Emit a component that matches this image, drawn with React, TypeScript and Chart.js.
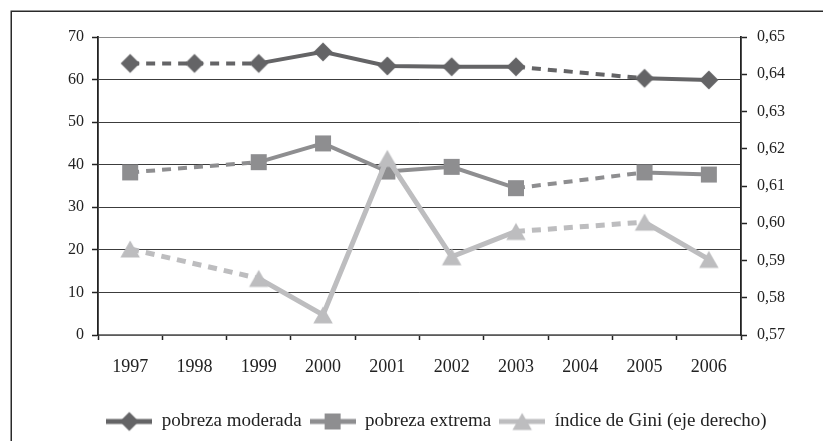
import React, { useEffect, useRef } from 'react';
import { Chart, registerables } from 'chart.js';

Chart.register(...registerables);

const years = ['1997', '1998', '1999', '2000', '2001', '2002', '2003', '2004', '2005', '2006'];
const pobrezaModerada = [63.8, 63.8, 63.8, 66.5, 63.2, 63.0, 63.0, null, 60.3, 59.9];
const pobrezaExtrema = [38.2, null, 40.6, 45.0, 38.4, 39.5, 34.5, null, 38.2, 37.7];
const indiceGini = [0.5931, null, 0.5852, 0.5754, 0.6174, 0.591, 0.5978, null, 0.6003, 0.5903];
const leftTickLabels = ['0', '10', '20', '30', '40', '50', '60', '70'];
const rightTickLabels = ['0,57', '0,58', '0,59', '0,60', '0,61', '0,62', '0,63', '0,64', '0,65'];
const seriesLabels = ['pobreza moderada', 'pobreza extrema', 'índice de Gini (eje derecho)'];
// years whose values are joined by a dashed segment (estimated gap)
const dashedFrom = { mod: ['1997', '1998', '2003'], ext: ['1997', '2003'], gini: ['1997', '2003'] };

const COL_MOD = '#646466';
const COL_EXT = '#8e8e90';
const COL_GINI = '#bdbdbf';
const FONT = "'Liberation Serif', 'Times New Roman', serif";

function drawMarker(ctx: CanvasRenderingContext2D, kind: string, cx: number, cy: number, color: string) {
  ctx.fillStyle = color;
  ctx.beginPath();
  if (kind === 'diamond') {
    const r = 9.5;
    ctx.moveTo(cx, cy - r);
    ctx.lineTo(cx + r, cy);
    ctx.lineTo(cx, cy + r);
    ctx.lineTo(cx - r, cy);
  } else if (kind === 'square') {
    const h = 8;
    ctx.rect(cx - h, cy - h, 2 * h, 2 * h);
  } else {
    const hw = 9.75;
    const hh = 8.5;
    ctx.moveTo(cx, cy - hh);
    ctx.lineTo(cx + hw, cy + hh);
    ctx.lineTo(cx - hw, cy + hh);
  }
  ctx.closePath();
  ctx.fill();
}

function makeMarker(kind: string, color: string) {
  const c = document.createElement('canvas');
  c.width = 24;
  c.height = 24;
  const ctx = c.getContext('2d')!;
  drawMarker(ctx, kind, 12, 12, color);
  return c;
}

function makeLegendIcon(kind: string, color: string, lw: number) {
  const c = document.createElement('canvas');
  c.width = 46;
  c.height = 24;
  const ctx = c.getContext('2d')!;
  ctx.strokeStyle = color;
  ctx.lineWidth = lw;
  ctx.beginPath();
  ctx.moveTo(0, 12);
  ctx.lineTo(46, 12);
  ctx.stroke();
  drawMarker(ctx, kind, 23, 12, color);
  return c;
}

const framePlugin = {
  id: 'frame',
  beforeDraw(chart: any) {
    const ctx = chart.ctx;
    ctx.save();
    ctx.fillStyle = '#ffffff';
    ctx.fillRect(0, 0, chart.width, chart.height);
    ctx.strokeStyle = '#2a2a2a';
    ctx.lineWidth = 1.5;
    ctx.strokeRect(11.25, 11.25, 1200, 1200);
    ctx.restore();
  },
};

const dashedBy = (starts: string[]) => (ctx: any) => {
  const ds = ctx.chart.data.datasets[ctx.datasetIndex].data;
  // the previous non-null point before p1
  let j = ctx.p1DataIndex - 1;
  while (j >= 0 && ds[j] == null) j--;
  const gap = ctx.p1DataIndex - j > 1;
  return gap || starts.includes(years[j]) ? [9, 7] : undefined;
};

export default function App() {
  const ref = useRef<HTMLCanvasElement | null>(null);

  useEffect(() => {
    if (!ref.current) return;
    const icons = [
      makeLegendIcon('diamond', COL_MOD, 5),
      makeLegendIcon('square', COL_EXT, 5),
      makeLegendIcon('triangle', COL_GINI, 5),
    ];
    const PAD_LEFT = 50;
    const LEG_PAD = 8;
    const LEG_FONT = 19;
    const chart = new Chart(ref.current, {
      type: 'line',
      data: {
        labels: years,
        datasets: [
          {
            label: seriesLabels[0],
            data: pobrezaModerada,
            yAxisID: 'y',
            borderColor: COL_MOD,
            backgroundColor: COL_MOD,
            borderWidth: 4,
            pointStyle: makeMarker('diamond', COL_MOD),
            pointRadius: 10,
            spanGaps: true,
            order: 2,
            segment: { borderDash: dashedBy(dashedFrom.mod) },
          },
          {
            label: seriesLabels[1],
            data: pobrezaExtrema,
            yAxisID: 'y',
            borderColor: COL_EXT,
            backgroundColor: COL_EXT,
            borderWidth: 4,
            pointStyle: makeMarker('square', COL_EXT),
            pointRadius: 10,
            spanGaps: true,
            order: 1,
            segment: { borderDash: dashedBy(dashedFrom.ext) },
          },
          {
            label: seriesLabels[2],
            data: indiceGini,
            yAxisID: 'y1',
            borderColor: COL_GINI,
            backgroundColor: COL_GINI,
            borderWidth: 5,
            pointStyle: makeMarker('triangle', COL_GINI),
            pointRadius: 10,
            spanGaps: true,
            order: 0,
            segment: { borderDash: dashedBy(dashedFrom.gini) },
          },
        ] as any,
      },
      options: {
        responsive: false,
        animation: false,
        devicePixelRatio: 1,
        layout: { padding: { top: 37, left: PAD_LEFT, right: 0, bottom: 0 } },
        plugins: {
          tooltip: { enabled: false },
          legend: {
            position: 'bottom',
            labels: {
              usePointStyle: true,
              pointStyleWidth: 46,
              padding: LEG_PAD,
              color: '#222',
              font: { family: FONT, size: LEG_FONT },
              generateLabels: () =>
                seriesLabels.map((t, i) => ({
                  text: t,
                  pointStyle: icons[i],
                  fillStyle: '#fff',
                  strokeStyle: '#fff',
                  lineWidth: 0,
                  hidden: false,
                  datasetIndex: i,
                  fontColor: '#222',
                })) as any,
            },
          },
        },
        scales: {
          x: {
            type: 'category',
            offset: true,
            afterFit: (s: any) => {
              s.height = 441 - 335 - (LEG_FONT + LEG_PAD + 10);
            },
            grid: {
              offset: true,
              drawOnChartArea: false,
              drawTicks: true,
              tickLength: 5,
              tickColor: '#222',
              tickWidth: 1.5,
            },
            border: { color: '#7a7a7a', width: 1.5 },
            ticks: {
              color: '#222',
              padding: 16,
              font: { family: FONT, size: 18 },
              maxRotation: 0,
              autoSkip: false,
            },
          },
          y: {
            position: 'left',
            min: 0,
            max: 70,
            afterFit: (s: any) => {
              s.width = 98 - PAD_LEFT;
            },
            ticks: {
              stepSize: 10,
              color: '#222',
              padding: 8,
              font: { family: FONT, size: 16 },
              callback: (_v: any, i: number) => leftTickLabels[i],
            },
            grid: {
              color: (c: any) => (c.tick && c.tick.value === 70 ? '#8a8a8a' : '#3c3c3c'),
              lineWidth: 1,
              tickLength: 6,
              tickColor: '#222',
              tickWidth: 1.5,
            },
            border: { color: '#222', width: 1.8 },
          },
          y1: {
            position: 'right',
            min: 0.57,
            max: 0.65,
            afterFit: (s: any) => {
              s.width = 823 - 741;
            },
            ticks: {
              stepSize: 0.01,
              color: '#222',
              padding: 10,
              font: { family: FONT, size: 16 },
              callback: (_v: any, i: number) => rightTickLabels[i],
            },
            grid: {
              drawOnChartArea: false,
              tickLength: 6,
              tickColor: '#222',
              tickWidth: 1.5,
            },
            border: { color: '#222', width: 1.8 },
          },
        },
      },
      plugins: [framePlugin],
    });
    return () => chart.destroy();
  }, []);

  return (
    <div style={{ position: 'absolute', left: 0, top: 0, width: 823, height: 441, background: '#fff' }}>
      <canvas ref={ref} width={823} height={441} style={{ display: 'block' }} />
    </div>
  );
}
